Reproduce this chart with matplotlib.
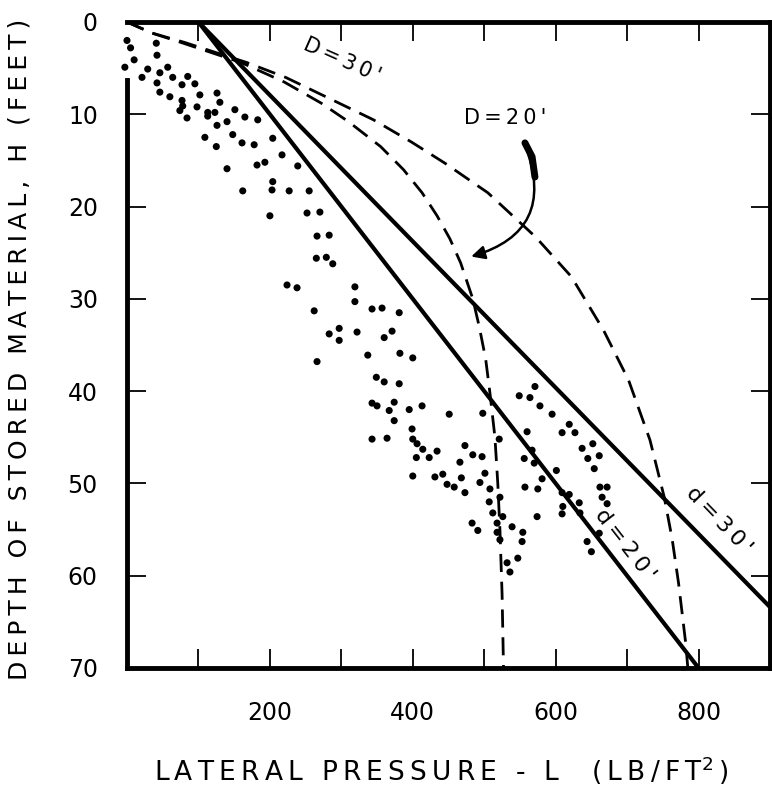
import matplotlib.pyplot as plt
from matplotlib.patches import FancyArrowPatch

plt.rcParams['font.family'] = ['DejaVu Sans']

# solid lines (d = bin diameter)
d20_L = [100, 800]
d20_H = [0, 70]
d30_L = [100, 900]
d30_H = [0, 63.4]

# dashed curves (D = bin diameter)
D20_H = [0, 1.2, 2.2, 4.4, 6.5, 8.8, 10.8, 13.5, 16.0, 18.5, 21.0, 23.5, 26.1,
         30.0, 33.0, 36.5, 40.2, 45.0, 50.0, 55.0, 62.0, 70]
D20_L = [0, 35, 75, 160, 220, 272, 310, 355, 387, 413, 434, 452, 467,
         484, 493, 502, 508, 515, 519, 522, 525, 527]
D30_H = [0, 1.2, 2.2, 4.4, 6.0, 8.5, 10.6, 13.0, 15.3, 18.5, 23.3, 27.6, 33.4,
         38.8, 45.3, 51.5, 56.0, 60.8, 67.3, 70]
D30_L = [0, 35, 80, 168, 222, 289, 345, 398, 445, 505, 572, 622, 667,
         702, 732, 752, 763, 772, 782, 785]

# measured points
obs_L = [0, 5, 10, -3, 41, 42, 29, 21, 46, 57, 64, 85, 42, 77, 95, 46, 60, 77,
         102, 126, 78, 98, 130, 151, 113, 84, 74, 113, 123,
         126, 140, 165, 183, 109, 125, 148, 161, 178, 204, 217, 140, 182, 193,
         204, 203, 227, 239, 255, 162, 200, 252, 270, 266, 283, 265, 279, 288,
         224, 238, 319, 319, 343, 357, 381, 262, 283, 297, 297, 322, 360, 371,
         337, 382, 400, 266, 349, 360, 381,
         343, 350, 374, 367, 374, 395, 413, 343, 364, 399, 400, 406, 414, 434,
         405, 423, 400, 431, 442, 448, 458, 468, 473, 451, 473, 466, 484, 497,
         498, 501, 494, 508, 521, 507, 522, 512, 518, 526, 539, 483, 491, 518,
         522, 554, 553, 547, 532, 536,
         549, 564, 571, 578, 595, 560, 619, 627, 609, 567, 556, 570, 601, 581,
         557, 575, 609, 619, 633, 610, 609, 574, 637, 652, 661, 645, 654, 662,
         672, 665, 672, 644, 650, 661, 634]
obs_H = [2.0, 2.8, 4.1, 4.9, 2.3, 3.6, 5.1, 6.0, 5.5, 4.9, 6.0, 5.9, 6.6, 6.8,
         6.7, 7.6, 8.1, 8.5, 7.9, 7.7, 9.1, 9.2, 8.7, 9.5, 9.8, 10.4, 9.6, 10.2,
         9.8,
         11.2, 10.8, 10.3, 10.6, 12.5, 13.5, 12.2, 13.1, 13.3, 12.6, 14.4, 15.9,
         15.5, 15.2, 17.3, 18.2, 18.3, 15.6, 18.3, 18.3, 21.0, 20.7, 20.6, 23.2,
         23.1, 25.6, 25.5, 26.2, 28.5, 28.8, 28.7, 30.3, 31.1, 31.0, 31.5, 31.3,
         33.8, 33.2, 34.5, 33.6, 34.2, 33.5, 36.1, 35.9, 36.4, 36.8, 38.5, 39.0,
         39.2,
         41.3, 41.6, 41.2, 42.1, 43.2, 42.0, 41.6, 45.2, 45.1, 44.1, 45.2, 45.7,
         46.3, 46.5, 47.2, 47.2, 49.2, 49.3, 49.0, 50.1, 50.4, 49.4, 51.0, 42.5,
         45.9, 47.7, 46.9, 47.1, 42.4, 48.9, 49.9, 50.6, 45.2, 52.0, 51.5, 53.2,
         54.3, 53.6, 54.7, 54.3, 55.1, 55.3, 56.1, 55.3, 56.3, 58.1, 58.6, 59.6,
         40.5, 40.7, 39.5, 41.6, 42.5, 44.4, 43.6, 44.5, 44.5, 46.4, 47.3, 47.8,
         48.6, 49.5, 50.4, 50.6, 51.0, 51.2, 52.1, 52.5, 53.3, 53.6, 46.2, 45.7,
         47.0, 47.3, 48.4, 50.4, 50.4, 51.5, 52.2, 56.3, 57.4, 55.4, 53.2]

x_ticks = [100, 200, 300, 400, 500, 600, 700, 800]
x_labels = ['', '200', '', '400', '', '600', '', '800']
y_ticks = [0, 10, 20, 30, 40, 50, 60, 70]


def spaced(s):
    # the original lettering is widely tracked
    return '\u2009'.join(s)


fig = plt.figure(figsize=(7.72, 7.97), dpi=100)
ax = fig.add_axes([0.1645, 0.1619, 0.8329, 0.8105])

ax.scatter(obs_L, obs_H, s=26, color='black', edgecolors='none', zorder=3,
           clip_on=False)
ax.plot(d20_L, d20_H, color='black', lw=3, solid_capstyle='butt')
ax.plot(d30_L, d30_H, color='black', lw=3, solid_capstyle='butt')
ax.plot(D20_L, D20_H, color='black', lw=2, dashes=(6.5, 3.5))
ax.plot(D30_L, D30_H, color='black', lw=2, dashes=(6.5, 3.5))

ax.set_xlim(0, 900)
ax.set_ylim(70, 0)

for side in ['top', 'bottom', 'left', 'right']:
    ax.spines[side].set_linewidth(3.5)
ax.spines['left'].set_bounds(6.3, 70)

ax.set_xticks(x_ticks)
ax.set_xticklabels(x_labels)
ax.set_yticks(y_ticks)
ax.tick_params(direction='in', length=14, width=1.3, labelsize=17,
               top=True, right=True)
ax.tick_params(axis='x', pad=24)
ax.tick_params(axis='y', pad=21)

# labels on the curves
ax.text(242, 4.2, spaced("D=30'"), rotation=-24, fontsize=15, ha='left',
        va='center')
ax.text(529, 10.4, spaced("D=20'"), fontsize=15, ha='center', va='center')
ax.text(697, 56.7, spaced("d=20'"), rotation=-52, fontsize=16, ha='center',
        va='center')
ax.text(828, 54.0, spaced("d=30'"), rotation=-46, fontsize=16, ha='center',
        va='center')

# curved pointer to the D=20' curve
ax.plot([557, 567, 571], [13.1, 14.6, 16.8], color='black', lw=5,
        solid_capstyle='round')
arrow = FancyArrowPatch((557, 13.3), (478, 25.5),
                        connectionstyle='arc3,rad=-0.55',
                        arrowstyle='-|>,head_length=8,head_width=4',
                        color='black', lw=1.8)
ax.add_patch(arrow)

fig.text(0.572, 0.012, spaced('LATERAL PRESSURE - L  (LB/FT') + '$^2$\u2009)',
         fontsize=19, ha='center', va='bottom')
fig.text(0.025, 0.562, spaced('DEPTH OF STORED MATERIAL, H (FEET)'),
         fontsize=18, rotation=90, ha='center', va='center')

fig.savefig('out.png', dpi=100)
